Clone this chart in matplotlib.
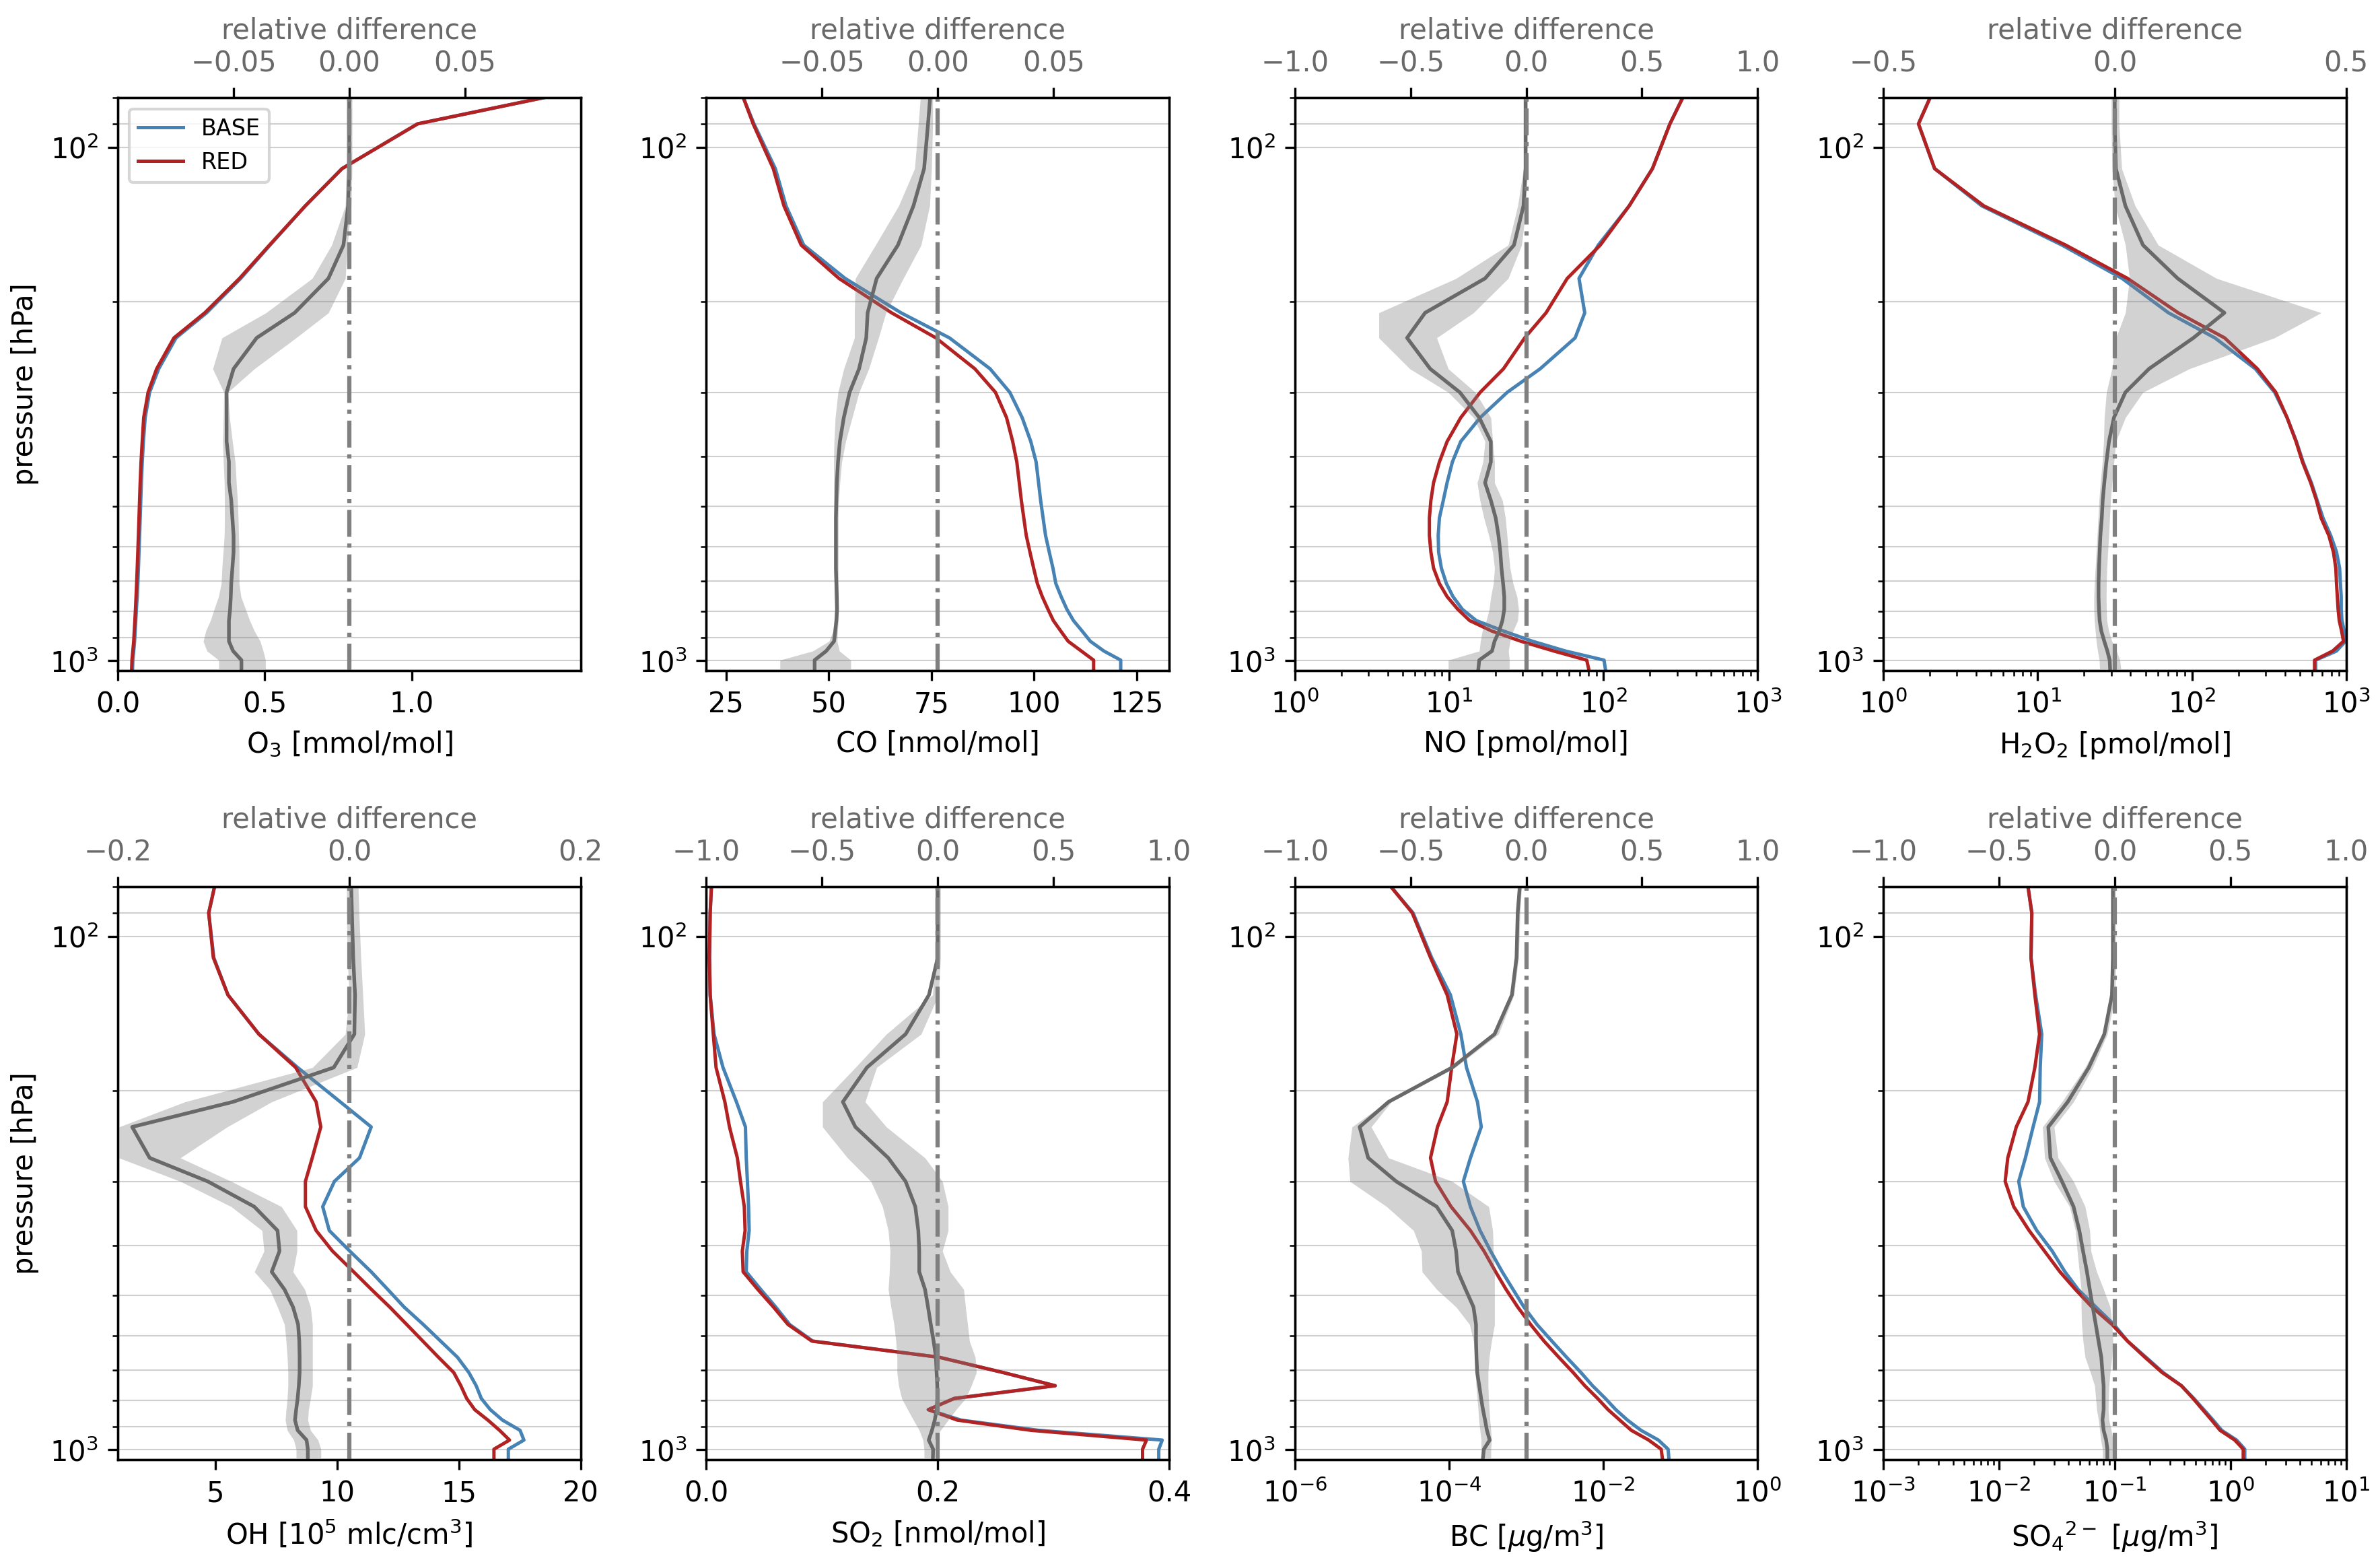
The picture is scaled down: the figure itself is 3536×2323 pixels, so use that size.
import numpy as np
import matplotlib
matplotlib.use("Agg")
import matplotlib.pyplot as plt
from matplotlib.ticker import NullFormatter, NullLocator

# pressure levels [hPa]
levels = [80, 90, 110, 130, 155, 180, 210, 235, 270, 300, 336, 374, 410, 450,
          487, 527, 570, 614, 660, 707, 750, 794, 835, 875, 916, 957, 997, 1037]

# ---- O3 [mmol/mol]
o3_base = [1.45, 1.02, 0.763, 0.638, 0.518, 0.418, 0.302, 0.198, 0.139, 0.108, 0.093, 0.087, 0.083, 0.080,
           0.078, 0.076, 0.074, 0.072, 0.070, 0.068, 0.066, 0.063, 0.061, 0.059, 0.057, 0.054, 0.051, 0.050]
o3_red = [1.45, 1.02, 0.763, 0.638, 0.516, 0.414, 0.296, 0.191, 0.132, 0.103, 0.088, 0.083, 0.079, 0.076,
          0.074, 0.072, 0.070, 0.068, 0.066, 0.064, 0.062, 0.060, 0.058, 0.056, 0.054, 0.051, 0.048, 0.047]
o3_rel = [0.0, 0.0, 0.0, -0.0005, -0.0025, -0.009, -0.0236, -0.040, -0.050, -0.053, -0.053, -0.053, -0.052, -0.052,
          -0.051, -0.0505, -0.050, -0.050, -0.0505, -0.051, -0.0512, -0.0515, -0.052, -0.052, -0.052, -0.0502, -0.0466, -0.0466]
o3_lo = [-0.0013, -0.0013, -0.0013, -0.0017, -0.0076, -0.016, -0.036, -0.055, -0.059, -0.0542, -0.0544, -0.0547, -0.0544, -0.054,
         -0.0539, -0.0539, -0.054, -0.0545, -0.055, -0.0553, -0.0565, -0.0584, -0.060, -0.062, -0.0631, -0.0615, -0.0564, -0.0564]
o3_hi = [0.0012, 0.0012, 0.0012, 0.0008, -0.0008, -0.0017, -0.009, -0.023, -0.041, -0.0525, -0.0517, -0.0505, -0.0493, -0.0488,
         -0.0483, -0.048, -0.0478, -0.0476, -0.0476, -0.0476, -0.0468, -0.0448, -0.043, -0.041, -0.0385, -0.0372, -0.0362, -0.0362]

# ---- CO [nmol/mol]
co_base = [29.2, 31.8, 37.0, 39.6, 43.9, 54.0, 67.6, 79.4, 89.3, 94.1, 97.1, 99.2, 100.5, 101.1,
           101.6, 102.2, 102.8, 103.7, 104.6, 105.3, 106.6, 108.0, 109.6, 111.7, 113.7, 117.0, 121.1, 121.1]
co_red = [29.2, 31.6, 36.5, 39.1, 43.3, 52.5, 65.3, 76.1, 85.6, 90.6, 93.3, 94.8, 95.8, 96.4,
          96.9, 97.5, 98.1, 99.0, 99.9, 100.8, 102.0, 103.4, 104.7, 106.5, 108.3, 111.5, 114.5, 114.5]
co_rel = [-0.0033, -0.0042, -0.0059, -0.0105, -0.0172, -0.0264, -0.0303, -0.0309, -0.034, -0.0381, -0.0406, -0.0423, -0.0431, -0.0436,
          -0.0438, -0.044, -0.044, -0.044, -0.044, -0.0438, -0.0436, -0.0435, -0.0438, -0.0443, -0.0448, -0.0482, -0.0532, -0.0532]
co_lo = [-0.0075, -0.0084, -0.010, -0.0169, -0.0269, -0.0356, -0.036, -0.036, -0.0406, -0.0431, -0.0443, -0.0448, -0.045, -0.045,
         -0.045, -0.045, -0.045, -0.045, -0.045, -0.0448, -0.0448, -0.0446, -0.0448, -0.0452, -0.047, -0.054, -0.0682, -0.0682]
co_hi = [-0.0022, -0.0022, -0.0027, -0.0035, -0.0072, -0.0149, -0.0224, -0.0256, -0.0298, -0.034, -0.037, -0.0398, -0.0415, -0.0423,
         -0.0428, -0.043, -0.043, -0.043, -0.043, -0.043, -0.043, -0.043, -0.043, -0.0433, -0.0435, -0.0425, -0.0376, -0.0376]

# ---- NO [pmol/mol]
no_base = [327, 270, 208, 147, 92.7, 69.5, 75.7, 65.6, 38.9, 23.8, 15.9, 11.9, 10.5, 9.7,
           9.17, 8.65, 8.5, 8.55, 8.91, 9.6, 10.6, 12.2, 15.0, 22.5, 34.7, 56.7, 101, 103]
no_red = [327, 270, 208, 147, 95.5, 58.3, 42.5, 30.9, 22.5, 15.9, 11.9, 9.71, 8.65, 7.93,
          7.62, 7.45, 7.45, 7.62, 7.93, 8.65, 9.71, 11.4, 13.6, 18.9, 29.2, 47.7, 78.0, 80.3]
no_rel = [-0.003, -0.003, -0.003, -0.012, -0.053, -0.178, -0.437, -0.515, -0.415, -0.287, -0.203, -0.153, -0.153, -0.178,
          -0.153, -0.132, -0.12, -0.112, -0.107, -0.1, -0.095, -0.095, -0.103, -0.117, -0.137, -0.148, -0.203, -0.207]
no_lo = [-0.008, -0.008, -0.012, -0.037, -0.078, -0.303, -0.637, -0.637, -0.503, -0.337, -0.228, -0.178, -0.187, -0.212,
         -0.2, -0.183, -0.162, -0.145, -0.137, -0.142, -0.153, -0.16, -0.173, -0.19, -0.198, -0.203, -0.337, -0.337]
no_hi = [0.005, 0.005, 0.005, 0.0, -0.02, -0.078, -0.228, -0.387, -0.337, -0.22, -0.153, -0.145, -0.137, -0.137,
         -0.103, -0.09, -0.083, -0.077, -0.07, -0.057, -0.04, -0.033, -0.037, -0.057, -0.07, -0.077, -0.073, -0.073]

# ---- H2O2 [pmol/mol]
h2o2_base = [2.01, 1.69, 2.15, 4.35, 14.4, 35.3, 70.5, 141, 258, 344, 414, 476, 526, 595,
             649, 708, 794, 866, 907, 918, 929, 929, 939, 972, 989, 866, 634, 634]
h2o2_red = [2.01, 1.69, 2.15, 4.48, 15.2, 38.3, 81.5, 163, 266, 350, 414, 473, 521, 589,
            642, 688, 772, 827, 857, 866, 877, 887, 902, 934, 961, 818, 624, 624]
h2o2_rel = [0.0, 0.0, 0.0025, 0.023, 0.061, 0.136, 0.237, 0.17, 0.074, 0.023, -0.0017, -0.0125, -0.018, -0.0226,
            -0.026, -0.028, -0.031, -0.0326, -0.034, -0.035, -0.035, -0.034, -0.0326, -0.029, -0.0226, -0.0159, -0.0109, -0.010]
h2o2_lo = [-0.0075, -0.0075, -0.006, 0.0008, 0.023, 0.032, 0.023, 0.0025, -0.006, -0.018, -0.0226, -0.024, -0.0268, -0.031,
           -0.034, -0.036, -0.038, -0.040, -0.042, -0.044, -0.045, -0.045, -0.044, -0.042, -0.040, -0.037, -0.0334, -0.0326]
h2o2_hi = [0.0092, 0.0092, 0.015, 0.044, 0.094, 0.22, 0.446, 0.345, 0.161, 0.061, 0.023, 0.0025, -0.0017, -0.0059,
           -0.009, -0.011, -0.013, -0.015, -0.017, -0.018, -0.0184, -0.018, -0.017, -0.013, -0.006, 0.004, 0.011, 0.0134]

# ---- OH [1e5 mlc/cm3]
oh_base = [4.97, 4.73, 4.94, 5.52, 6.79, 8.38, 10.13, 11.40, 10.92, 9.89, 9.41, 9.68, 10.52, 11.40,
           12.08, 12.75, 13.54, 14.25, 14.94, 15.41, 15.71, 15.92, 16.29, 16.79, 17.51, 17.67, 17.03, 17.03]
oh_red = [4.97, 4.73, 4.92, 5.52, 6.79, 8.30, 9.14, 9.33, 8.98, 8.70, 8.70, 9.14, 9.81, 10.68,
          11.41, 12.16, 12.86, 13.52, 14.16, 14.79, 15.08, 15.32, 15.65, 16.19, 16.67, 17.08, 16.44, 16.44]
oh_rel = [0.0017, 0.0023, 0.0034, 0.005, 0.0044, -0.0134, -0.1005, -0.1876, -0.1725, -0.1223, -0.0821, -0.062, -0.0603, -0.067,
          -0.056, -0.0486, -0.0442, -0.0432, -0.0429, -0.0429, -0.0436, -0.0446, -0.0459, -0.0469, -0.0446, -0.0369, -0.0358, -0.0358]
oh_lo = [-0.0023, -0.0023, -0.0017, 0.0, -0.0034, -0.0318, -0.142, -0.199, -0.199, -0.146, -0.102, -0.0754, -0.0737, -0.082,
         -0.0687, -0.062, -0.056, -0.0546, -0.0536, -0.053, -0.053, -0.0536, -0.0546, -0.0553, -0.0536, -0.048, -0.0459, -0.0459]
oh_hi = [0.0077, 0.0084, 0.010, 0.0117, 0.0134, 0.0067, -0.067, -0.1055, -0.146, -0.102, -0.0586, -0.0452, -0.0452, -0.0486,
         -0.0385, -0.0335, -0.0318, -0.0318, -0.0318, -0.0318, -0.0318, -0.0335, -0.0352, -0.0358, -0.0335, -0.027, -0.0245, -0.0245]

# ---- SO2 [nmol/mol]
so2_base = [0.0044, 0.0033, 0.0027, 0.0033, 0.0067, 0.0144, 0.026, 0.0338, 0.0345, 0.0355, 0.0365, 0.037, 0.035, 0.0345,
            0.047, 0.060, 0.072, 0.092, 0.201, 0.2566, 0.3015, 0.2143, 0.1918, 0.220, 0.287, 0.394, 0.391, 0.391]
so2_red = [0.0044, 0.0033, 0.0027, 0.0033, 0.006, 0.0084, 0.016, 0.020, 0.0268, 0.0295, 0.0328, 0.0335, 0.0311, 0.0318,
           0.0445, 0.058, 0.0706, 0.0912, 0.201, 0.2566, 0.3015, 0.2143, 0.1918, 0.2169, 0.2804, 0.3804, 0.377, 0.377]
so2_rel = [0.0, 0.0, 0.0, -0.038, -0.139, -0.306, -0.41, -0.356, -0.214, -0.139, -0.097, -0.084, -0.08, -0.08,
           -0.055, -0.042, -0.03, -0.018, -0.008, -0.005, -0.002, -0.002, -0.005, -0.013, -0.025, -0.039, -0.02, -0.021]
so2_lo = [-0.013, -0.013, -0.013, -0.022, -0.222, -0.356, -0.498, -0.498, -0.39, -0.289, -0.239, -0.214, -0.206, -0.209,
          -0.214, -0.202, -0.189, -0.181, -0.176, -0.176, -0.169, -0.156, -0.13, -0.105, -0.08, -0.064, -0.059, -0.059]
so2_hi = [0.012, 0.012, 0.012, 0.003, -0.072, -0.264, -0.314, -0.222, -0.055, 0.02, 0.045, 0.045, 0.02, 0.054,
          0.112, 0.12, 0.129, 0.137, 0.162, 0.167, 0.145, 0.12, 0.079, 0.045, 0.012, -0.013, -0.013, -0.013]

# ---- BC [ug/m3]
bc_base = [1.76e-5, 3.41e-5, 5.94e-5, 1.04e-4, 1.42e-4, 1.68e-4, 2.33e-4, 2.61e-4, 1.89e-4, 1.53e-4, 1.89e-4, 2.52e-4, 3.45e-4, 4.88e-4,
           6.74e-4, 9.33e-4, 1.38e-3, 2.15e-3, 3.33e-3, 5.12e-3, 7.23e-3, 1.06e-2, 1.45e-2, 2.05e-2, 3.07e-2, 5.17e-2, 6.90e-2, 7.06e-2]
bc_red = [1.76e-5, 3.33e-5, 5.74e-5, 9.44e-5, 1.26e-4, 1.08e-4, 9.44e-5, 7.07e-5, 5.74e-5, 6.67e-5, 1.06e-4, 1.89e-4, 2.83e-4, 4.01e-4,
          5.48e-4, 7.75e-4, 1.14e-3, 1.70e-3, 2.64e-3, 4.06e-3, 5.74e-3, 8.41e-3, 1.15e-2, 1.63e-2, 2.30e-2, 3.87e-2, 5.61e-2, 5.81e-2]
bc_rel = [-0.028, -0.037, -0.042, -0.062, -0.137, -0.32, -0.595, -0.72, -0.683, -0.562, -0.387, -0.32, -0.303, -0.295,
          -0.262, -0.228, -0.217, -0.217, -0.215, -0.212, -0.203, -0.195, -0.187, -0.178, -0.17, -0.158, -0.183, -0.187]
bc_lo = [-0.037, -0.045, -0.05, -0.07, -0.145, -0.328, -0.603, -0.753, -0.77, -0.762, -0.603, -0.487, -0.453, -0.45,
         -0.387, -0.303, -0.245, -0.228, -0.223, -0.22, -0.217, -0.212, -0.208, -0.205, -0.2, -0.195, -0.195, -0.195]
bc_hi = [-0.02, -0.027, -0.033, -0.053, -0.12, -0.307, -0.583, -0.67, -0.595, -0.32, -0.162, -0.145, -0.142, -0.137,
         -0.137, -0.137, -0.137, -0.15, -0.16, -0.165, -0.165, -0.163, -0.16, -0.157, -0.153, -0.15, -0.153, -0.153]

# ---- SO4 [ug/m3]
so4_base = [0.0178, 0.0192, 0.0189, 0.0207, 0.0234, 0.0227, 0.0224, 0.0197, 0.0169, 0.0148, 0.0162, 0.0212, 0.0288, 0.0371,
            0.0482, 0.0687, 0.0985, 0.129, 0.186, 0.262, 0.377, 0.483, 0.589, 0.708, 0.84, 1.13, 1.33, 1.33]
so4_red = [0.0178, 0.0192, 0.0189, 0.0204, 0.0224, 0.0204, 0.0178, 0.0141, 0.0119, 0.0113, 0.0134, 0.0182, 0.0247, 0.0336,
           0.0457, 0.0636, 0.0948, 0.129, 0.182, 0.257, 0.377, 0.475, 0.575, 0.687, 0.813, 1.09, 1.29, 1.29]
so4_rel = [-0.008, -0.008, -0.008, -0.012, -0.045, -0.112, -0.203, -0.287, -0.278, -0.228, -0.178, -0.153, -0.137, -0.12,
           -0.108, -0.095, -0.082, -0.07, -0.058, -0.053, -0.048, -0.048, -0.048, -0.053, -0.048, -0.037, -0.032, -0.032]
so4_lo = [-0.015, -0.015, -0.015, -0.02, -0.053, -0.128, -0.228, -0.312, -0.303, -0.262, -0.195, -0.17, -0.162, -0.153,
          -0.145, -0.145, -0.143, -0.137, -0.128, -0.105, -0.087, -0.082, -0.078, -0.07, -0.065, -0.06, -0.053, -0.053]
so4_hi = [0.005, 0.005, 0.005, 0.002, -0.032, -0.095, -0.178, -0.262, -0.245, -0.178, -0.128, -0.108, -0.103, -0.078,
          -0.048, -0.02, -0.012, -0.008, -0.012, -0.02, -0.025, -0.027, -0.028, -0.025, -0.015, -0.008, -0.008, -0.008]

# panel setup: data, xlabel, scale, xlim, xticks, rel-lim, rel-ticks
panels = [
    (o3_base, o3_red, o3_rel, o3_lo, o3_hi, r'O$_3$ [mmol/mol]', 'linear', (0, 1.575), [0.0, 0.5, 1.0],
     (-0.1, 0.1), [-0.05, 0.0, 0.05]),
    (co_base, co_red, co_rel, co_lo, co_hi, 'CO [nmol/mol]', 'linear', (20.2, 132.9), [25, 50, 75, 100, 125],
     (-0.1, 0.1), [-0.05, 0.0, 0.05]),
    (no_base, no_red, no_rel, no_lo, no_hi, 'NO [pmol/mol]', 'log', (1, 1e3), [1, 10, 100, 1000],
     (-1, 1), [-1.0, -0.5, 0.0, 0.5, 1.0]),
    (h2o2_base, h2o2_red, h2o2_rel, h2o2_lo, h2o2_hi, r'H$_2$O$_2$ [pmol/mol]', 'log', (1, 1e3), [1, 10, 100, 1000],
     (-0.5, 0.5), [-0.5, 0.0, 0.5]),
    (oh_base, oh_red, oh_rel, oh_lo, oh_hi, r'OH [10$^5$ mlc/cm$^3$]', 'linear', (1, 20), [5, 10, 15, 20],
     (-0.2, 0.2), [-0.2, 0.0, 0.2]),
    (so2_base, so2_red, so2_rel, so2_lo, so2_hi, r'SO$_2$ [nmol/mol]', 'linear', (0, 0.4), [0.0, 0.2, 0.4],
     (-1, 1), [-1.0, -0.5, 0.0, 0.5, 1.0]),
    (bc_base, bc_red, bc_rel, bc_lo, bc_hi, r'BC [$\mu$g/m$^3$]', 'log', (1e-6, 1), [1e-6, 1e-4, 1e-2, 1],
     (-1, 1), [-1.0, -0.5, 0.0, 0.5, 1.0]),
    (so4_base, so4_red, so4_rel, so4_lo, so4_hi, r'SO$_4$$^{2-}$ [$\mu$g/m$^3$]', 'log', (1e-3, 10), [1e-3, 1e-2, 1e-1, 1, 10],
     (-1, 1), [-1.0, -0.5, 0.0, 0.5, 1.0]),
]

fig, axes = plt.subplots(2, 4, figsize=(3537 / 300, 2323 / 300), dpi=300)
plt.subplots_adjust(left=0.0495, right=0.9855, bottom=0.0667, top=0.9376, wspace=0.2715, hspace=0.377)

for i, (ax, pan) in enumerate(zip(axes.flat, panels)):
    base, red, rel, lo, hi, xlabel, scale, xlim, xticks, rlim, rticks = pan
    ax.set_yscale('log')
    ax.set_xscale(scale)
    ax.grid(axis='y', which='both', color='#cfcfcf', lw=0.5)
    ax.plot(base, levels, color='steelblue', lw=1.2, label='BASE')
    ax.plot(red, levels, color='firebrick', lw=1.2, label='RED')
    ax.set_ylim(1045, 80)
    ax.set_xlim(xlim)
    ax.set_xticks(xticks)
    if scale == 'log' and len(xticks) < 5 and xlim[0] < 1e-4:
        ax.xaxis.set_minor_locator(NullLocator())
    ax.yaxis.set_minor_formatter(NullFormatter())
    ax.set_xlabel(xlabel)
    if i % 4 == 0:
        ax.set_ylabel('pressure [hPa]')
    if i == 0:
        ax.legend(loc='upper left', fontsize=8)

    ax2 = ax.twiny()
    ax2.fill_betweenx(levels, lo, hi, color='gray', alpha=0.35, lw=0)
    ax2.plot(rel, levels, color='dimgray', lw=1.3)
    ax2.axvline(0, color='gray', ls='-.', lw=1.5)
    ax2.set_xlim(rlim)
    ax2.set_xticks(rticks)
    ax2.tick_params(axis='x', labelcolor='dimgray')
    ax2.set_xlabel('relative difference', color='dimgray')

plt.savefig('out.png', dpi=300)
